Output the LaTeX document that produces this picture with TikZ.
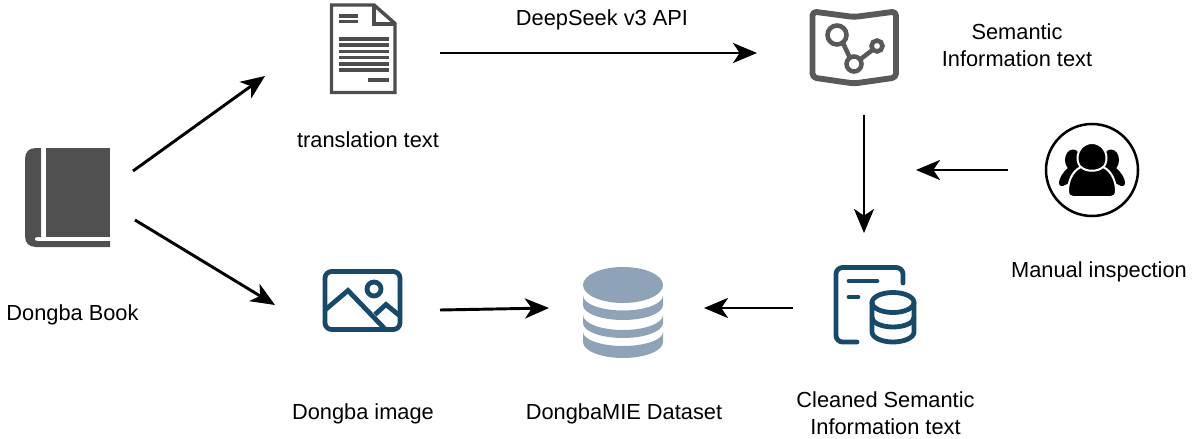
\documentclass[tikz,border=0pt]{standalone}
\usepackage{fontspec}
\setmainfont{Liberation Sans}
\usetikzlibrary{arrows.meta}
\definecolor{bookgray}{HTML}{505050}
\definecolor{docgray}{HTML}{4D4D4D}
\definecolor{mapgray}{HTML}{595959}
\definecolor{iconblue}{HTML}{17496B}
\definecolor{dbblue}{HTML}{8FA3B8}
\tikzset{
  label text/.style={font=\fontsize{16.35}{20.3}\selectfont, align=center, inner sep=0pt},
  flow/.style={-{Stealth[length=18pt,width=15pt,inset=5pt]}, line width=2.2pt, black},
  blueicon/.style={iconblue, line width=3.6pt, line cap=round, line join=round},
}
\begin{document}
\begin{tikzpicture}[x=0.75pt,y=-0.75pt]
\useasboundingbox (0,0) rectangle (1196,439);
% labels
\node[label text] (tbook) at (72.5,315) {Dongba Book};
\node[label text] (ttrans) at (368,140) {translation text};
\node[label text] (tapi) at (602,20) {DeepSeek v3 API};
\node[label text] (tsem) at (1017,45.5) {Semantic\\Information text};
\node[label text] (tman) at (1099,272) {Manual inspection};
\node[label text] (timg) at (363,414) {Dongba image};
\node[label text] (tset) at (624,414) {DongbaMIE Dataset};
\node[label text] (tclean) at (885.5,413.5) {Cleaned Semantic\\Information text};
% book
\fill[bookgray] (46,148) rectangle (110,237);
\fill[bookgray] (41,148) -- (36,148) .. controls (29,148) and (25,152) .. (25,159) -- (25,236)
  .. controls (25,243) and (29,247) .. (36,247) -- (110,247) -- (110,241) -- (38,241)
  .. controls (33.5,241) and (33.5,237) .. (38,237) -- (41,237) -- cycle;
% document
\draw[docgray, line width=2.6pt, line join=miter] (331.5,5) -- (374,5) -- (395,23.5) -- (395,92.5) -- (331.5,92.5) -- cycle;
\draw[docgray, line width=2.6pt] (374,5) -- (374,24) -- (395,24);
\foreach \ly in {16,21.5} \draw[docgray, line width=2.4pt] (339,\ly) -- (358,\ly);
\foreach \ly in {39,45,51.5,57.5,64,70} \draw[docgray, line width=2.4pt] (339,\ly) -- (389,\ly);
\draw[docgray, line width=2.4pt] (368,80) -- (389,80);
% map
\draw[mapgray, line width=4.4pt, line join=round, rounded corners=3pt] (812.5,11.5) -- (854,17) -- (896,11.5) -- (896,77.5) -- (854,83.5) -- (812.5,77.5) -- cycle;
\draw[mapgray, line width=3.4pt] (837,35) circle[radius=9.5];
\draw[mapgray, line width=3.4pt] (854,64) circle[radius=7.5];
\draw[mapgray, line width=3.4pt] (877,46) circle[radius=5.5];
\draw[mapgray, line width=3.4pt] (843,43) -- (849.5,57);
\draw[mapgray, line width=3.4pt] (860,59.5) -- (872.5,50);
% people
\draw[black, line width=1.9pt] (1092,170) circle[radius=46];
\fill[black] (1073,160) ellipse[x radius=8, y radius=10.5];
\fill[black] (1111,160) ellipse[x radius=8, y radius=10.5];
\fill[black] (1068,168) .. controls (1062,173) and (1059,179) .. (1059,183)
  .. controls (1059,186) and (1062,187) .. (1065,185) -- (1085,175) -- (1078,166) -- cycle;
\fill[black] (1116,168) .. controls (1122,173) and (1125,179) .. (1125,183)
  .. controls (1125,186) and (1122,187) .. (1119,185) -- (1099,175) -- (1106,166) -- cycle;
\filldraw[black, draw=white, line width=1.5pt] (1092,158) ellipse[x radius=14.5, y radius=15];
\filldraw[black, draw=white, line width=1.5pt] (1081,167) .. controls (1086,172) and (1098,172) .. (1103,167)
  .. controls (1112,171) and (1116,182) .. (1116,191) .. controls (1116,195) and (1114,197) .. (1111,197)
  -- (1073,197) .. controls (1070,197) and (1068,195) .. (1068,191) .. controls (1068,182) and (1072,171) .. (1081,167) -- cycle;
% image
\draw[blueicon, rounded corners=5pt] (325,271.5) rectangle (400,329.5);
\draw[blueicon] (374,289) circle[radius=7];
\draw[blueicon, line cap=butt, line join=miter] (325,310) -- (348,290.5) -- (385,329);
\draw[blueicon, line cap=butt, line join=miter] (375,314.5) -- (386,304.5) -- (400,316);
% database
\fill[dbblue] (583,285) arc[start angle=180, end angle=0, x radius=40, y radius=18]
  arc[start angle=0, end angle=-180, x radius=40, y radius=18];
\fill[dbblue] (583,295.5) arc[start angle=180, end angle=0, x radius=40, y radius=15]
  -- (663,305) arc[start angle=0, end angle=180, x radius=40, y radius=15] -- cycle;
\fill[dbblue] (583,315) arc[start angle=180, end angle=0, x radius=40, y radius=15]
  -- (663,323) arc[start angle=0, end angle=180, x radius=40, y radius=15] -- cycle;
\fill[dbblue] (583,332) arc[start angle=180, end angle=0, x radius=40, y radius=14]
  -- (663,342) arc[start angle=0, end angle=180, x radius=40, y radius=16] -- cycle;
% cleaned text
\draw[blueicon, rounded corners=5pt] (903,283) -- (903,267.5) -- (836,267.5) -- (836,342) -- (857,342);
\draw[blueicon] (849,281) -- (877,281);
\draw[blueicon] (849,297) -- (858,297);
\draw[blueicon] (872,302.5) arc[start angle=180, end angle=-180, x radius=21, y radius=10];
\draw[blueicon] (872,302.5) -- (872,332) arc[start angle=180, end angle=0, x radius=21, y radius=10] -- (914,302.5);
\draw[blueicon] (872,317.5) arc[start angle=180, end angle=0, x radius=21, y radius=9.5];
% connector ends
\coordinate (bookup) at (133,171);
\coordinate (transin) at (265,76);
\coordinate (bookdown) at (135,220);
\coordinate (imagein) at (275,305);
\coordinate (transout) at (440,53);
\coordinate (mapin) at (757,53);
\coordinate (mapout) at (864,115);
\coordinate (cleanin) at (864,233);
\coordinate (peopleout) at (1008,170);
\coordinate (checkin) at (916,170);
\coordinate (cleanout) at (793,308);
\coordinate (setright) at (704,308);
\coordinate (imageout) at (440,310);
\coordinate (setleft) at (549,308);
\draw[flow] (bookup) -- (transin);
\draw[flow] (bookdown) -- (imagein);
\draw[flow] (transout) -- (mapin);
\draw[flow] (mapout) -- (cleanin);
\draw[flow] (peopleout) -- (checkin);
\draw[flow] (cleanout) -- (setright);
\draw[flow] (imageout) -- (setleft);
\end{tikzpicture}
\end{document}
